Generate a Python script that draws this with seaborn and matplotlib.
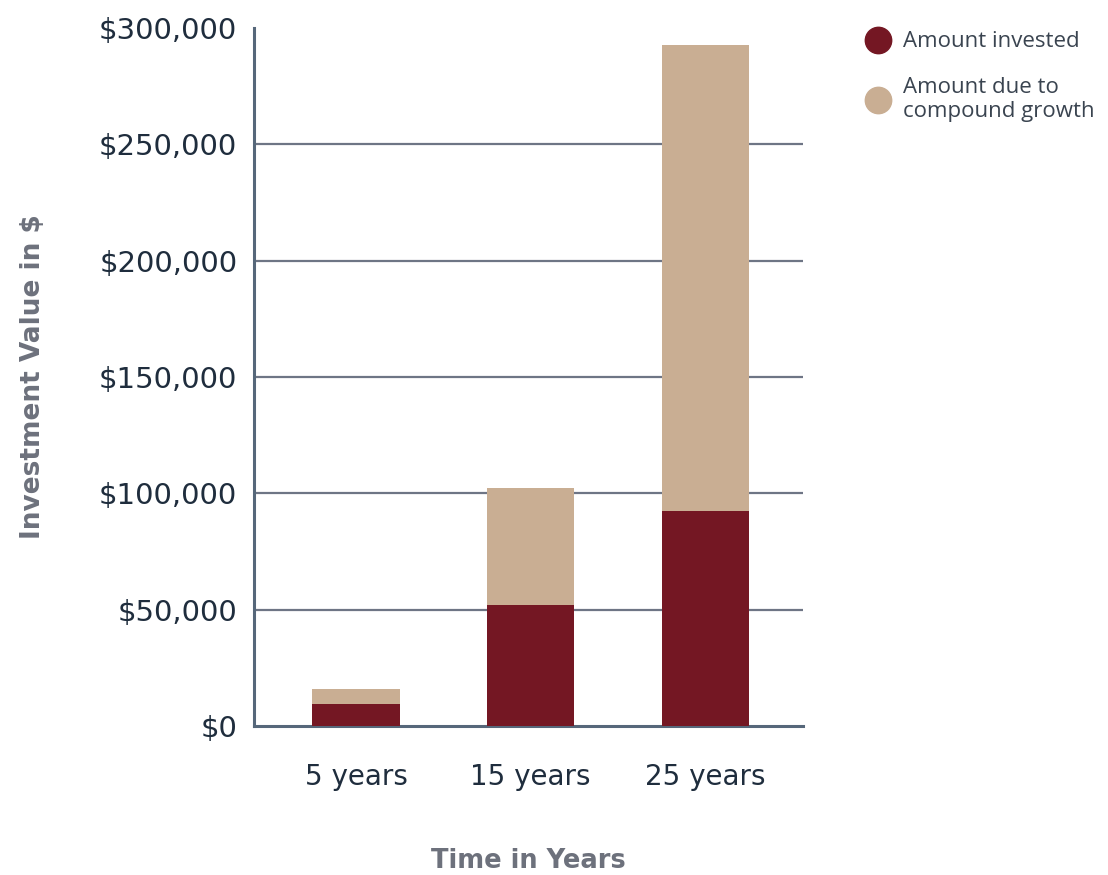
import matplotlib
matplotlib.use("Agg")
import matplotlib.pyplot as plt
import seaborn as sns
import pandas as pd
from matplotlib.lines import Line2D
from matplotlib.ticker import FuncFormatter, MultipleLocator

# data
periods = ["5 years", "15 years", "25 years"]
invested = [9500, 52000, 92500]
growth = [6500, 50500, 200000]

DARK = "#741723"
TAN = "#c9ae93"
GRID = "#6e7585"
TEXT = "#1f2d3d"
LABEL = "#6d717c"

sns.set_theme(style="white")
plt.rcParams['font.family'] = ['DejaVu Sans']

df = pd.DataFrame({"Period": periods, "Invested": invested, "Growth": growth})
df["Total"] = df["Invested"] + df["Growth"]

fig = plt.figure(figsize=(11.08, 8.75), dpi=100)
ax = fig.add_axes([0.2292, 0.1703, 0.4955, 0.7977])

# total first (tan), invested on top (dark) -> stacked look
sns.barplot(data=df, x="Period", y="Total", color=TAN, saturation=1, width=0.5,
            linewidth=0, ax=ax, zorder=3)
sns.barplot(data=df, x="Period", y="Invested", color=DARK, saturation=1, width=0.5,
            linewidth=0, ax=ax, zorder=4)

ax.set_ylim(0, 300000)
ax.set_xlim(-0.585, 2.56)
ax.yaxis.set_major_locator(MultipleLocator(50000))
ax.yaxis.set_major_formatter(FuncFormatter(lambda v, p: f"${v:,.0f}"))

# grid lines at the inner ticks only (no line at the very top)
for yv in ax.get_yticks():
    if 0 < yv < 300000:
        ax.axhline(yv, color=GRID, linewidth=1.6, zorder=0)

for s in ["top", "right"]:
    ax.spines[s].set_visible(False)
for s in ["left", "bottom"]:
    ax.spines[s].set_color("#56677a")
    ax.spines[s].set_linewidth(2.2)

ax.tick_params(axis="y", length=0, pad=12, labelsize=21, labelcolor=TEXT)
ax.tick_params(axis="x", length=0, pad=27, labelsize=20, labelcolor=TEXT)
for t in ax.get_xticklabels():
    t.set_fontweight("medium")

ax.set_xlabel("Time in Years", fontsize=18.5, fontweight="bold", color=LABEL, labelpad=41)
ax.set_ylabel("Investment Value in $", fontsize=19, fontweight="bold", color=LABEL, labelpad=38)

handles = [
    Line2D([0], [0], marker="o", linestyle="", markersize=19, markerfacecolor=DARK, markeredgecolor=DARK),
    Line2D([0], [0], marker="o", linestyle="", markersize=19, markerfacecolor=TAN, markeredgecolor=TAN),
]
leg = fig.legend(handles, ["Amount invested", "Amount due to\ncompound growth"],
                 loc="upper left", bbox_to_anchor=(0.762, 0.987), frameon=False,
                 prop={"family": "Open Sans", "size": 16}, labelcolor="#3a4450",
                 handletextpad=0.55, labelspacing=1.1, handlelength=1.2)

fig.savefig("out.png", dpi=100)
